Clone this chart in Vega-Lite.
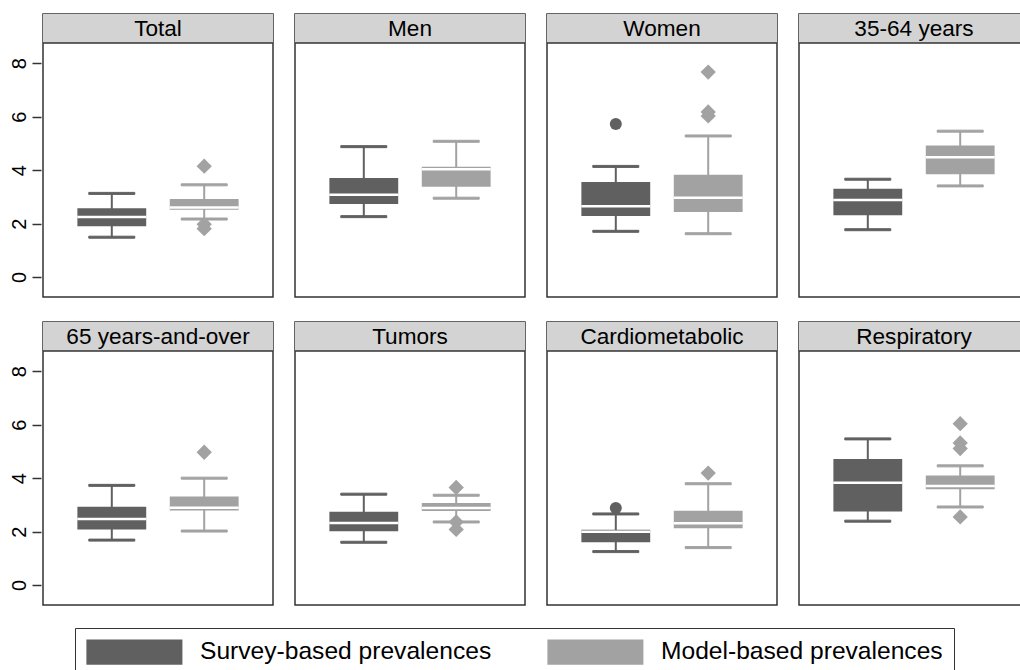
{
  "$schema": "https://vega.github.io/schema/vega-lite/v6.json",
  "padding": {"top": 12, "left": 9, "right": 0, "bottom": 0},
  "background": "white",
  "config": {
    "font": "Liberation Sans",
    "view": {"stroke": "#333333", "strokeWidth": 1.5},
    "axis": {"labelColor": "black", "tickColor": "#333333"},
    "header": {"labels": false, "title": null, "labelExpr": "''", "labelFontSize": 1, "labelPadding": 0}
  },
  "data": {
    "values": [
      {"panel": "Total", "group": "Survey-based prevalences", "type": "box", "lo": 1.49, "q1": 1.90, "med": 2.25, "q3": 2.57, "hi": 3.13},
      {"panel": "Total", "group": "Model-based prevalences", "type": "box", "lo": 2.17, "q1": 2.52, "med": 2.60, "q3": 2.92, "hi": 3.45},
      {"panel": "Men", "group": "Survey-based prevalences", "type": "box", "lo": 2.26, "q1": 2.73, "med": 3.08, "q3": 3.71, "hi": 4.88},
      {"panel": "Men", "group": "Model-based prevalences", "type": "box", "lo": 2.95, "q1": 3.38, "med": 4.03, "q3": 4.13, "hi": 5.08},
      {"panel": "Women", "group": "Survey-based prevalences", "type": "box", "lo": 1.71, "q1": 2.28, "med": 2.65, "q3": 3.56, "hi": 4.14},
      {"panel": "Women", "group": "Model-based prevalences", "type": "box", "lo": 1.62, "q1": 2.43, "med": 2.97, "q3": 3.83, "hi": 5.28},
      {"panel": "35-64 years", "group": "Survey-based prevalences", "type": "box", "lo": 1.77, "q1": 2.31, "med": 2.88, "q3": 3.30, "hi": 3.66},
      {"panel": "35-64 years", "group": "Model-based prevalences", "type": "box", "lo": 3.41, "q1": 3.85, "med": 4.48, "q3": 4.92, "hi": 5.46},
      {"panel": "65 years-and-over", "group": "Survey-based prevalences", "type": "box", "lo": 1.68, "q1": 2.08, "med": 2.47, "q3": 2.93, "hi": 3.73},
      {"panel": "65 years-and-over", "group": "Model-based prevalences", "type": "box", "lo": 2.02, "q1": 2.79, "med": 2.89, "q3": 3.31, "hi": 4.00},
      {"panel": "Tumors", "group": "Survey-based prevalences", "type": "box", "lo": 1.60, "q1": 2.01, "med": 2.32, "q3": 2.74, "hi": 3.40},
      {"panel": "Tumors", "group": "Model-based prevalences", "type": "box", "lo": 2.36, "q1": 2.77, "med": 2.88, "q3": 3.07, "hi": 3.36},
      {"panel": "Cardiometabolic", "group": "Survey-based prevalences", "type": "box", "lo": 1.25, "q1": 1.60, "med": 1.99, "q3": 2.07, "hi": 2.66},
      {"panel": "Cardiometabolic", "group": "Model-based prevalences", "type": "box", "lo": 1.40, "q1": 2.12, "med": 2.31, "q3": 2.78, "hi": 3.79},
      {"panel": "Respiratory", "group": "Survey-based prevalences", "type": "box", "lo": 2.39, "q1": 2.75, "med": 3.83, "q3": 4.72, "hi": 5.47},
      {"panel": "Respiratory", "group": "Model-based prevalences", "type": "box", "lo": 2.92, "q1": 3.58, "med": 3.71, "q3": 4.10, "hi": 4.46},
      {"panel": "Total", "group": "Model-based prevalences", "type": "out", "value": 4.15},
      {"panel": "Total", "group": "Model-based prevalences", "type": "out", "value": 1.97},
      {"panel": "Total", "group": "Model-based prevalences", "type": "out", "value": 1.81},
      {"panel": "Women", "group": "Survey-based prevalences", "type": "out", "value": 5.73},
      {"panel": "Women", "group": "Model-based prevalences", "type": "out", "value": 7.67},
      {"panel": "Women", "group": "Model-based prevalences", "type": "out", "value": 6.18},
      {"panel": "Women", "group": "Model-based prevalences", "type": "out", "value": 6.03},
      {"panel": "65 years-and-over", "group": "Model-based prevalences", "type": "out", "value": 4.97},
      {"panel": "Tumors", "group": "Model-based prevalences", "type": "out", "value": 3.65},
      {"panel": "Tumors", "group": "Model-based prevalences", "type": "out", "value": 2.36},
      {"panel": "Tumors", "group": "Model-based prevalences", "type": "out", "value": 2.08},
      {"panel": "Cardiometabolic", "group": "Survey-based prevalences", "type": "out", "value": 2.88},
      {"panel": "Cardiometabolic", "group": "Model-based prevalences", "type": "out", "value": 4.19},
      {"panel": "Respiratory", "group": "Model-based prevalences", "type": "out", "value": 6.04},
      {"panel": "Respiratory", "group": "Model-based prevalences", "type": "out", "value": 5.32},
      {"panel": "Respiratory", "group": "Model-based prevalences", "type": "out", "value": 5.11},
      {"panel": "Respiratory", "group": "Model-based prevalences", "type": "out", "value": 2.55}
    ]
  },
  "facet": {
    "field": "panel",
    "type": "nominal",
    "sort": ["Total", "Men", "Women", "35-64 years", "65 years-and-over", "Tumors", "Cardiometabolic", "Respiratory"],
    "header": {"title": null, "labelExpr": "''", "labelFontSize": 1, "labelPadding": 0}
  },
  "columns": 4,
  "spacing": {"row": 22, "column": 18},
  "spec": {
    "width": 230,
    "height": 283,
    "encoding": {
      "x": {
        "field": "group",
        "type": "nominal",
        "sort": ["Survey-based prevalences", "Model-based prevalences"],
        "scale": {"paddingInner": 0.255, "paddingOuter": 0.372},
        "axis": null
      }
    },
    "layer": [
      {
        "transform": [{"filter": "datum.type == 'box' && datum.group == 'Survey-based prevalences'"}],
        "mark": {"type": "rect", "color": "#d3d3d3"},
        "encoding": {
          "x": null,
          "y": {"datum": 8.76, "type": "quantitative", "scale": {"domain": [-0.749, 9.846], "nice": false, "zero": false},
                "axis": {"values": [0, 2, 4, 6, 8], "grid": false, "domain": false, "title": null, "tickSize": 9, "tickWidth": 1.5, "labelAngle": 270, "labelFontSize": 20, "labelPadding": 3}},
          "y2": {"datum": 9.846}
        }
      },
      {
        "transform": [{"filter": "datum.type == 'box' && datum.group == 'Survey-based prevalences'"}],
        "mark": {"type": "rule", "color": "#333333", "strokeWidth": 1.5},
        "encoding": {"x": null, "y": {"datum": 8.76, "type": "quantitative"}}
      },
      {
        "transform": [{"filter": "datum.type == 'box' && datum.group == 'Survey-based prevalences'"}],
        "mark": {"type": "text", "fontSize": 22.6, "baseline": "middle", "align": "center", "color": "black"},
        "encoding": {"x": null, "y": {"datum": 9.30, "type": "quantitative"}, "text": {"field": "panel"}}
      },
      {
        "transform": [{"filter": "datum.type == 'box'"}],
        "mark": {"type": "rule", "strokeWidth": 2},
        "encoding": {
          "y": {"field": "lo", "type": "quantitative"},
          "y2": {"field": "hi"},
          "stroke": {"field": "group", "type": "nominal", "sort": ["Survey-based prevalences", "Model-based prevalences"], "scale": {"range": ["#606060", "#a2a2a2"]}, "legend": null}
        }
      },
      {
        "transform": [{"filter": "datum.type == 'box'"}],
        "mark": {"type": "tick", "orient": "horizontal", "size": 46, "thickness": 2, "opacity": 1},
        "encoding": {
          "y": {"field": "lo", "type": "quantitative"},
          "stroke": {"field": "group", "type": "nominal", "sort": ["Survey-based prevalences", "Model-based prevalences"], "legend": null},
          "fill": {"field": "group", "type": "nominal", "sort": ["Survey-based prevalences", "Model-based prevalences"], "scale": {"range": ["#606060", "#a2a2a2"]}, "legend": null}
        }
      },
      {
        "transform": [{"filter": "datum.type == 'box'"}],
        "mark": {"type": "tick", "orient": "horizontal", "size": 46, "thickness": 2, "opacity": 1},
        "encoding": {
          "y": {"field": "hi", "type": "quantitative"},
          "stroke": {"field": "group", "type": "nominal", "sort": ["Survey-based prevalences", "Model-based prevalences"], "legend": null},
          "fill": {"field": "group", "type": "nominal", "sort": ["Survey-based prevalences", "Model-based prevalences"], "legend": null}
        }
      },
      {
        "transform": [{"filter": "datum.type == 'box'"}],
        "mark": {"type": "bar"},
        "encoding": {
          "y": {"field": "q1", "type": "quantitative"},
          "y2": {"field": "q3"},
          "color": {
            "field": "group",
            "type": "nominal",
            "scale": {"domain": ["Survey-based prevalences", "Model-based prevalences"], "range": ["#606060", "#a2a2a2"]},
            "legend": {
              "title": null,
              "orient": "none",
              "legendX": 32,
              "legendY": 614,
              "direction": "horizontal",
              "symbolType": "M-1,-1H6.62V1H-1Z",
              "symbolSize": 635,
              "symbolStrokeWidth": 0,
              "symbolOpacity": 1,
              "labelFontSize": 24.6,
              "labelLimit": 500,
              "labelColor": "black",
              "labelOffset": 88,
              "columnPadding": 55,
              "padding": 11,
              "strokeColor": "#333333"
            }
          }
        }
      },
      {
        "transform": [{"filter": "datum.type == 'box'"}],
        "mark": {"type": "tick", "orient": "horizontal", "size": 69, "thickness": 2.5, "color": "white", "opacity": 1},
        "encoding": {"y": {"field": "med", "type": "quantitative"}}
      },
      {
        "transform": [{"filter": "datum.type == 'out'"}],
        "mark": {"type": "point", "opacity": 1, "strokeWidth": 0},
        "encoding": {
          "y": {"field": "value", "type": "quantitative"},
          "fill": {"field": "group", "type": "nominal", "sort": ["Survey-based prevalences", "Model-based prevalences"], "legend": null},
          "shape": {"field": "group", "type": "nominal", "sort": ["Survey-based prevalences", "Model-based prevalences"], "scale": {"range": ["circle", "diamond"]}, "legend": null},
          "size": {"field": "group", "type": "nominal", "sort": ["Survey-based prevalences", "Model-based prevalences"], "scale": {"range": [144, 234]}, "legend": null}
        }
      }
    ]
  }
}
